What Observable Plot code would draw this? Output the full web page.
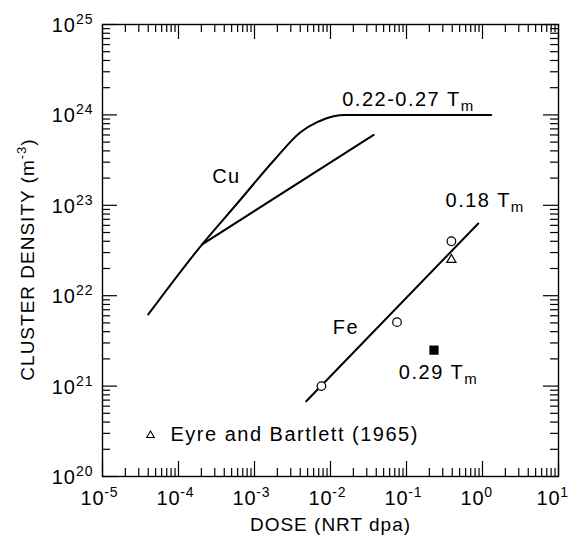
<!DOCTYPE html>
<html><head><meta charset="utf-8">
<script src="https://cdn.jsdelivr.net/npm/d3@7"></script>
<script src="https://cdn.jsdelivr.net/npm/@observablehq/plot@0.6"></script>
<style>body{margin:0;background:#fff} svg{display:block}</style>
</head><body><div id="chart"></div>
<script>
// ---- data ----
const xDecades = [1e-5, 1e-4, 1e-3, 1e-2, 1e-1, 1e0, 1e1];
const xExponents = ["-5", "-4", "-3", "-2", "-1", "0", "1"];
const yDecades = [1e20, 1e21, 1e22, 1e23, 1e24, 1e25];
const yExponents = ["20", "21", "22", "23", "24", "25"];

// Cu, upper branch (saturating at 1e24)
const cuUpperDose    = [4.0e-5, 2.05e-4, 6.07e-4, 1.795e-3, 4.03e-3, 6.68e-3, 1.10e-2, 1.57e-2, 1.3];
const cuUpperDensity = [6.2e21, 3.7e22, 1.074e23, 3.13e23, 6.44e23, 8.30e23, 9.68e23, 1.0e24, 1.0e24];
// Cu, lower branch
const cuLowerDose    = [2.05e-4, 0.037];
const cuLowerDensity = [3.7e22, 6.0e23];
// Fe fit line
const feLineDose     = [4.8e-3, 0.88];
const feLineDensity  = [6.8e20, 6.3e22];
// Fe open circles
const feCircleDose    = [7.6e-3, 0.075, 0.39];
const feCircleDensity = [1.0e21, 5.1e21, 4.0e22];
// Eyre and Bartlett (1965) triangle
const eyreDose = [0.39];
const eyreDensity = [2.5e22];
// 0.29 Tm filled square
const hotDose = [0.23];
const hotDensity = [2.5e21];
// annotations
const labelText    = ["Cu", "0.22-0.27 T_{m}", "0.18 T_{m}", "Fe", "0.29 T_{m}", "Eyre and Bartlett (1965)"];
const labelDose    = [2.77e-4, 0.01426, 0.326, 0.0107, 0.0793, 7.85e-5];
const labelDensity = [2.08e23, 1.49e24, 1.14e23, 4.45e21, 1.40e21, 2.94e20];
const legendDose = [4.28e-5];
const legendDensity = [2.85e20];

// ---- layout ----
const W = 572, H = 540, mL = 102, mR = 14, mT = 24, mB = 64;
const FW = W - mL - mR, FH = H - mT - mB;
const FONT = "Liberation Sans, Arial, Helvetica, sans-serif";

const zip = (xs, ys) => xs.map((x, i) => ({x, y: ys[i]}));

// render helper: letter spacing, and "^{..}" / "_{..}" -> superscript / subscript tspans
function rich({supSize = 14, supDy = -8, subSize = 14, subDy = 5, spacing = 0} = {}) {
  return function(index, scales, values, dims, context, next) {
    const g = next(index, scales, values, dims, context);
    if (spacing) g.setAttribute("letter-spacing", spacing);
    g.querySelectorAll("text").forEach(t => {
      const s = t.textContent;
      if (!/[\^_]\{/.test(s)) return;
      while (t.firstChild) t.removeChild(t.firstChild);
      const re = /([\^_])\{([^}]*)\}|([^\^_]+)/g;
      let m, shift = 0;
      while ((m = re.exec(s))) {
        const ts = document.createElementNS("http://www.w3.org/2000/svg", "tspan");
        if (m[3]) {
          ts.textContent = m[3];
          if (shift) { ts.setAttribute("dy", -shift); shift = 0; }
        } else {
          const sup = m[1] === "^";
          const d = sup ? supDy : subDy;
          ts.textContent = m[2];
          ts.setAttribute("font-size", sup ? supSize : subSize);
          ts.setAttribute("dy", d - shift);
          shift = d;
        }
        t.appendChild(ts);
      }
    });
    return g;
  };
}

const scaleX = d3.scaleLog().domain([1e-5, 10]);
const scaleY = d3.scaleLog().domain([1e20, 1e25]);
const minorX = scaleX.ticks().filter(v => !xDecades.some(d => Math.abs(d - v) / d < 1e-9));
const minorY = scaleY.ticks().filter(v => !yDecades.some(d => Math.abs(d - v) / d < 1e-9));

const MAJ = 15, MIN = 8;
const tickStyle = {stroke: "black", strokeWidth: 1.2};

const chart = Plot.plot({
  width: W, height: H,
  marginLeft: mL, marginRight: mR, marginTop: mT, marginBottom: mB,
  style: {fontFamily: FONT, background: "white", color: "black"},
  x: {type: "log", domain: [1e-5, 10], axis: null},
  y: {type: "log", domain: [1e20, 1e25], axis: null},
  marks: [
    // ticks, inside on all four sides
    Plot.tickX(xDecades, {x: d => d, insetTop: FH - MAJ, ...tickStyle}),
    Plot.tickX(minorX, {x: d => d, insetTop: FH - MIN, ...tickStyle}),
    Plot.tickX(xDecades, {x: d => d, insetBottom: FH - MAJ, ...tickStyle}),
    Plot.tickX(minorX, {x: d => d, insetBottom: FH - MIN, ...tickStyle}),
    Plot.tickY(yDecades, {y: d => d, insetRight: FW - MAJ, ...tickStyle}),
    Plot.tickY(minorY, {y: d => d, insetRight: FW - MIN, ...tickStyle}),
    Plot.tickY(yDecades, {y: d => d, insetLeft: FW - MAJ, ...tickStyle}),
    Plot.tickY(minorY, {y: d => d, insetLeft: FW - MIN, ...tickStyle}),
    Plot.frame({stroke: "black", strokeWidth: 1.4}),

    // tick labels ("10" ends at the tick, exponent follows)
    Plot.text(xDecades, {
      x: d => d, text: (d, i) => `10^{${xExponents[i]}}`,
      frameAnchor: "bottom", dx: -22, dy: 22, lineAnchor: "middle", textAnchor: "start",
      fontSize: 20, fill: "black",
      render: rich({supSize: 14, supDy: -8, spacing: 0.8})
    }),
    Plot.text(yDecades, {
      y: d => d, text: (d, i) => `10^{${yExponents[i]}}`,
      frameAnchor: "left", dx: -9, dy: 1, lineAnchor: "middle", textAnchor: "end",
      fontSize: 20, fill: "black",
      render: rich({supSize: 14, supDy: -8, spacing: 1})
    }),

    // axis titles
    Plot.text(["DOSE (NRT dpa)"], {
      frameAnchor: "bottom", dy: 48, lineAnchor: "middle", textAnchor: "middle",
      fontSize: 19, fill: "black",
      render: rich({spacing: 1})
    }),
    Plot.text(["CLUSTER DENSITY (m^{-3})"], {
      frameAnchor: "left", dx: -74.5, dy: 9, rotate: -90, lineAnchor: "middle", textAnchor: "middle",
      fontSize: 19, fill: "black",
      render: rich({supSize: 13, supDy: -8, spacing: 1})
    }),

    // curves
    Plot.line(zip(cuUpperDose, cuUpperDensity), {x: "x", y: "y", stroke: "black", strokeWidth: 2, curve: "monotone-x"}),
    Plot.line(zip(cuLowerDose, cuLowerDensity), {x: "x", y: "y", stroke: "black", strokeWidth: 2}),
    Plot.line(zip(feLineDose, feLineDensity), {x: "x", y: "y", stroke: "black", strokeWidth: 2}),

    // points
    Plot.dot(zip(feCircleDose, feCircleDensity), {x: "x", y: "y", r: 4.3, stroke: "black", fill: "white", strokeWidth: 1.2}),
    Plot.dot(zip(eyreDose, eyreDensity), {x: "x", y: "y", symbol: "triangle", r: 3.4, stroke: "black", fill: "white", strokeWidth: 1.2}),
    Plot.dot(zip(hotDose, hotDensity), {x: "x", y: "y", symbol: "square", r: 5.2, fill: "black", stroke: "none"}),
    Plot.dot(zip(legendDose, legendDensity), {x: "x", y: "y", symbol: "triangle", r: 2.8, stroke: "black", fill: "white", strokeWidth: 1.1}),

    // annotations
    Plot.text(labelText.map((t, i) => ({t, x: labelDose[i], y: labelDensity[i]})), {
      x: "x", y: "y", text: "t", textAnchor: "start", lineAnchor: "middle",
      fontSize: 20, fill: "black",
      render: rich({subSize: 15, subDy: 5, spacing: 1.5})
    })
  ]
});
document.getElementById("chart").appendChild(chart);
</script>
</body></html>
